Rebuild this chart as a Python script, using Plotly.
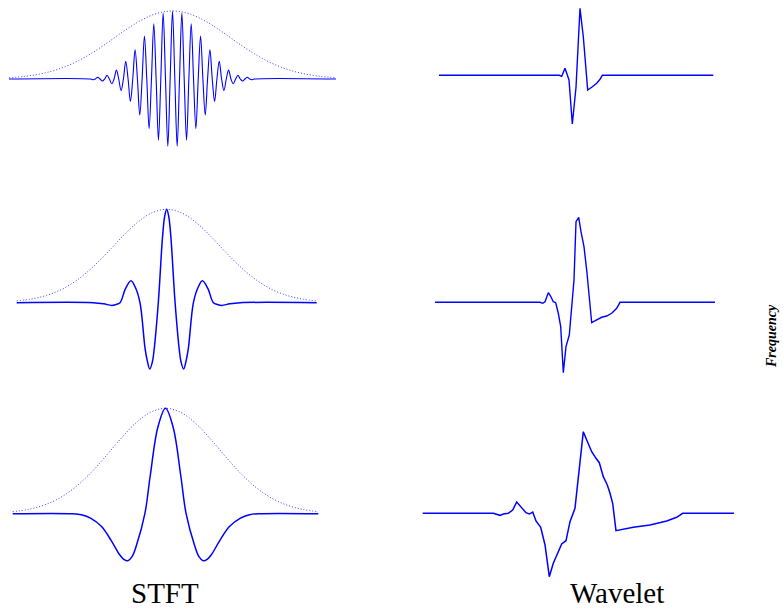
import plotly.graph_objects as go

W, H = 783, 608

# ---------------- data ----------------
# Gaussian window (dotted), normalised time -1..1, same for all STFT rows
env_t = [-1.0, -0.9, -0.8, -0.7, -0.6, -0.5, -0.4, -0.3, -0.2, -0.1, 0.0,
         0.1, 0.2, 0.3, 0.4, 0.5, 0.6, 0.7, 0.8, 0.9, 1.0]
env_y = [0.019, 0.040, 0.079, 0.143, 0.240, 0.371, 0.530, 0.700, 0.853, 0.961, 1.0,
         0.961, 0.853, 0.700, 0.530, 0.371, 0.240, 0.143, 0.079, 0.040, 0.019]

# STFT row 1: high-frequency windowed oscillation (extrema and zero crossings)
stft1_t = [-1.0, -0.5005, -0.4862, -0.4719, -0.4576, -0.4433, -0.429, -0.4147, -0.4004,
           -0.3861, -0.3718, -0.3575, -0.3432, -0.3289, -0.3146, -0.3003, -0.286,
           -0.2717, -0.2574, -0.2431, -0.2288, -0.2145, -0.2002, -0.1859, -0.1716,
           -0.1573, -0.143, -0.1287, -0.1144, -0.1001, -0.0858, -0.0715, -0.0572,
           -0.0429, -0.0286, -0.0143, 0.0,
           0.0143, 0.0286, 0.0429, 0.0572, 0.0715, 0.0858, 0.1001, 0.1144, 0.1287,
           0.143, 0.1573, 0.1716, 0.1859, 0.2002, 0.2145, 0.2288, 0.2431, 0.2574,
           0.2717, 0.286, 0.3003, 0.3146, 0.3289, 0.3432, 0.3575, 0.3718, 0.3861,
           0.4004, 0.4147, 0.429, 0.4433, 0.4576, 0.4719, 0.4862, 0.5005, 1.0]
stft1_y = [0, 0, -0.01, 0, 0.025, 0, -0.03, 0, 0.055, 0, -0.07, 0, 0.13, 0, -0.17, 0,
           0.26, 0, -0.33, 0, 0.43, 0, -0.53, 0, 0.63, 0, -0.73, 0, 0.81, 0, -0.90, 0,
           0.97, 0, -0.99, 0, 1.0,
           0, -0.99, 0, 0.97, 0, -0.90, 0, 0.81, 0, -0.73, 0, 0.63, 0, -0.53, 0, 0.43,
           0, -0.33, 0, 0.26, 0, -0.17, 0, 0.13, 0, -0.07, 0, 0.055, 0, -0.03, 0,
           0.025, 0, -0.01, 0, 0]

# STFT row 2: medium frequency
stft2_t = [-1.0, -0.49, -0.42, -0.367, -0.34, -0.311, -0.275, -0.238, -0.208, -0.178,
           -0.145, -0.131, -0.113, -0.095, -0.085, -0.056, -0.028, -0.014, 0.0,
           0.014, 0.028, 0.056, 0.085, 0.095, 0.113, 0.131, 0.145, 0.178, 0.208, 0.238,
           0.275, 0.311, 0.34, 0.367, 0.42, 0.49, 1.0]
stft2_y = [0, 0, -0.012, -0.029, -0.02, 0, 0.15, 0.236, 0.16, 0,
           -0.48, -0.61, -0.711, -0.63, -0.52, 0, 0.70, 0.92, 1.0,
           0.92, 0.70, 0, -0.52, -0.63, -0.711, -0.61, -0.48, 0, 0.16, 0.236,
           0.15, 0, -0.02, -0.029, -0.012, 0, 0]

# STFT row 3: low frequency
stft3_t = [-1.0, -0.61, -0.55, -0.488, -0.42, -0.357, -0.30, -0.275, -0.246, -0.22,
           -0.19, -0.135, -0.10, -0.05, 0.0,
           0.05, 0.10, 0.135, 0.19, 0.22, 0.246, 0.275, 0.30, 0.357, 0.42, 0.488,
           0.55, 0.61, 1.0]
stft3_y = [0, 0, -0.01, -0.044, -0.12, -0.25, -0.39, -0.43, -0.446, -0.41,
           -0.30, 0, 0.36, 0.82, 1.0,
           0.82, 0.36, 0, -0.30, -0.41, -0.446, -0.43, -0.39, -0.25, -0.12, -0.044,
           -0.01, 0, 0]

# Wavelet rows (time 0..100, amplitude relative to each row's maximum)
wav1_t = [5.24, 43.88, 44.65, 45.71, 47.00, 48.06, 49.25, 50.53, 51.59, 53.00,
          54.29, 55.89, 56.96, 57.70, 93.35]
wav1_y = [0, 0, -0.015, 0.104, -0.070, -0.727, -0.179, 1.0, 0.576, -0.219,
          -0.179, -0.119, -0.060, 0, 0]

wav2_t = [3.95, 37.68, 38.55, 39.29, 40.35, 41.12, 41.95, 42.72, 43.56, 44.33,
          45.17, 46.03, 47.09, 47.86, 48.60, 49.25, 50.11, 50.85, 51.81, 52.68,
          53.42, 54.29, 55.89, 57.50, 59.11, 60.71, 62.32, 63.38, 93.90]
wav2_y = [0, 0, -0.012, 0.007, 0.113, 0.071, 0.007, -0.005, -0.129, -0.287,
          -0.828, -0.522, -0.385, -0.091, 0.262, 0.948, 1.0, 0.831, 0.654, 0.380,
          0.106, -0.240, -0.208, -0.176, -0.161, -0.129, -0.071, 0, 0]

wav3_t = [0.0, 22.68, 24.83, 25.89, 27.50, 28.91, 30.20, 31.80, 33.18, 34.24,
          35.34, 36.40, 37.91, 39.29, 40.67, 41.95, 43.56, 44.65, 46.03, 47.32,
          48.92, 49.98, 50.75, 51.59, 52.68, 54.29, 55.67, 56.73, 58.02, 59.30,
          60.17, 61.03, 62.09, 67.65, 73.02, 78.38, 81.59, 83.52, 100.0]
wav3_y = [0, 0, -0.025, -0.009, 0, 0.040, 0.138, 0.061, 0.007, -0.009,
          0.016, -0.094, -0.172, -0.388, -0.777, -0.613, -0.471, -0.376, -0.336, -0.103,
          0.061, 0.408, 0.735, 1.0, 0.898, 0.755, 0.674, 0.620, 0.449, 0.347,
          0.245, 0.123, -0.213, -0.172, -0.143, -0.094, -0.049, 0, 0]

col_labels = ["STFT", "Wavelet"]
side_label = "Frequency"

# ---------------- layout helpers ----------------
def xdomain(px_lo, px_hi, v_lo, v_hi, r0, r1):
    s = (px_hi - px_lo) / (v_hi - v_lo)
    a = px_lo + (r0 - v_lo) * s
    b = px_lo + (r1 - v_lo) * s
    return [a / W, b / W]

def ydomain(py_zero, ppu, r0, r1):
    return [1 - (py_zero - r0 * ppu) / H, 1 - (py_zero - r1 * ppu) / H]

BLUE = "#0000ff"
ENV = "#3a3aff"

panels = [
    dict(t=stft1_t, y=stft1_y, env=True, xm=(9, 336, -1, 1, -1.02, 1.02),
         ym=(79, 68, -1.08, 1.08), w=1.1),
    dict(t=stft2_t, y=stft2_y, env=True, xm=(16.7, 316.7, -1, 1, -1.02, 1.02),
         ym=(302.7, 93.4, -0.8, 1.06), w=1.5),
    dict(t=stft3_t, y=stft3_y, env=True, xm=(12.7, 318.3, -1, 1, -1.02, 1.02),
         ym=(513.7, 105.4, -0.52, 1.05), w=1.5),
    dict(t=wav1_t, y=wav1_y, env=False, xm=(422.7, 734, 0, 100, -2, 102),
         ym=(75.3, 67, -0.85, 1.05), w=1.4),
    dict(t=wav2_t, y=wav2_y, env=False, xm=(422.7, 734, 0, 100, -2, 102),
         ym=(302.3, 85, -0.95, 1.07), w=1.4),
    dict(t=wav3_t, y=wav3_y, env=False, xm=(422.7, 734, 0, 100, -2, 102),
         ym=(513.3, 81.6, -0.85, 1.07), w=1.5),
]

fig = go.Figure()
layout = {}
for i, p in enumerate(panels, start=1):
    xa = "x" if i == 1 else f"x{i}"
    ya = "y" if i == 1 else f"y{i}"
    xk = "xaxis" if i == 1 else f"xaxis{i}"
    yk = "yaxis" if i == 1 else f"yaxis{i}"
    px_lo, px_hi, v_lo, v_hi, r0, r1 = p["xm"]
    pyz, ppu, q0, q1 = p["ym"]
    layout[xk] = dict(domain=xdomain(px_lo, px_hi, v_lo, v_hi, r0, r1), range=[r0, r1],
                      visible=False, anchor=ya, fixedrange=True)
    layout[yk] = dict(domain=ydomain(pyz, ppu, q0, q1), range=[q0, q1],
                      visible=False, anchor=xa, fixedrange=True)
    if p["env"]:
        fig.add_trace(go.Scatter(x=env_t, y=env_y, mode="lines", xaxis=xa, yaxis=ya,
                                 line=dict(color=ENV, width=1, dash="1px,2px",
                                           shape="spline", smoothing=1.0),
                                 hoverinfo="skip", showlegend=False))
        fig.add_trace(go.Scatter(x=p["t"], y=p["y"], mode="lines", xaxis=xa, yaxis=ya,
                                 line=dict(color=BLUE, width=p["w"], shape="spline",
                                           smoothing=1.0),
                                 hoverinfo="skip", showlegend=False))
    else:
        fig.add_trace(go.Scatter(x=p["t"], y=p["y"], mode="lines", xaxis=xa, yaxis=ya,
                                 line=dict(color=BLUE, width=p["w"]),
                                 hoverinfo="skip", showlegend=False))

annotations = [
    dict(text=col_labels[0], x=165 / W, y=1 - 593 / H, xref="paper", yref="paper",
         xanchor="center", yanchor="middle", showarrow=False,
         font=dict(family="Liberation Serif", size=29, color="#000000")),
    dict(text=col_labels[1], x=616.7 / W, y=1 - 592.5 / H, xref="paper", yref="paper",
         xanchor="center", yanchor="middle", showarrow=False,
         font=dict(family="Liberation Serif", size=29, color="#000000")),
    dict(text="<b><i>" + side_label + "</i></b>", x=771 / W, y=1 - 336 / H,
         xref="paper", yref="paper", xanchor="center", yanchor="middle",
         textangle=-90, showarrow=False,
         font=dict(family="Liberation Serif", size=14, color="#000000")),
]

fig.update_layout(width=W, height=H, autosize=False,
                  margin=dict(l=0, r=0, t=0, b=0, pad=0),
                  paper_bgcolor="white", plot_bgcolor="white",
                  showlegend=False, annotations=annotations, **layout)

fig.write_html("out.html", config={"displayModeBar": False, "staticPlot": True},
               post_script="document.body.style.margin='0';document.body.style.padding='0';"
                           "document.body.style.overflow='hidden';")
